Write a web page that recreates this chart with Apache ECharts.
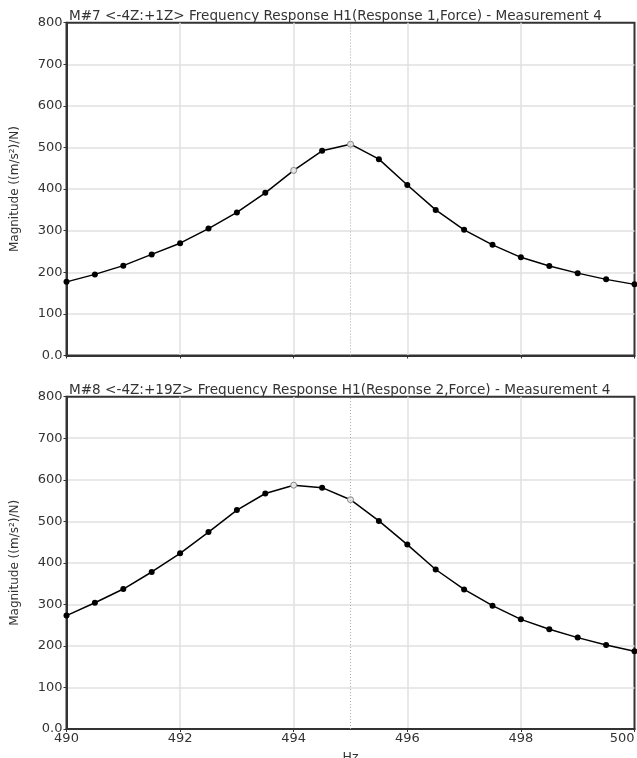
<!DOCTYPE html>
<html>
<head>
<meta charset="utf-8">
<script src="https://cdn.jsdelivr.net/npm/echarts@6/dist/echarts.min.js"></script>
<style>
  html, body { margin: 0; padding: 0; background: #fff; }
  #chart { width: 637px; height: 758px; }
</style>
</head>
<body>
<div id="chart"></div>
<script>
// frequency axis (Hz)
const freqs = [490, 490.5, 491, 491.5, 492, 492.5, 493, 493.5, 494, 494.5, 495,
               495.5, 496, 496.5, 497, 497.5, 498, 498.5, 499, 499.5, 500];
// M#7 magnitudes
const mag7 = [177, 195, 216, 243, 270, 305, 344, 391, 445, 492, 508,
              472, 410, 350, 302, 266, 236, 215, 198, 183, 171];
// M#8 magnitudes
const mag8 = [273, 304, 337, 378, 423, 474, 527, 567, 587, 581, 552,
              501, 444, 384, 336, 297, 264, 240, 220, 202, 187];
const titles = [
  "M#7 <-4Z:+1Z> Frequency Response H1(Response 1,Force) - Measurement 4",
  "M#8 <-4Z:+19Z> Frequency Response H1(Response 2,Force) - Measurement 4"
];
const peakFreq = 495;
const greyPoints = [494, 495]; // highlighted markers

const FONT = "DejaVu Sans";
const chart = echarts.init(document.getElementById("chart"));

function seriesData(vals) {
  return freqs.map((f, i) => {
    const item = { value: [f, vals[i]] };
    if (greyPoints.includes(f)) {
      item.itemStyle = { color: "#e6e6e6", borderColor: "#888", borderWidth: 1 };
    }
    return item;
  });
}

function xAxis(idx, showLabels) {
  return {
    type: "value", gridIndex: idx, min: 490, max: 500, interval: 2,
    name: showLabels ? "Hz" : "", nameLocation: "middle", nameGap: 22,
    nameTextStyle: { fontFamily: FONT, fontSize: 12.5, color: "#333" },
    axisLine: { show: true, onZero: false, lineStyle: { color: "#333", width: 2 } },
    axisTick: { show: true, length: 3, lineStyle: { color: "#333" } },
    axisLabel: { show: showLabels, fontFamily: FONT, fontSize: 13, color: "#333", margin: 3,
                 alignMaxLabel: "right" },
    splitLine: { show: true, showMinLine: false, showMaxLine: false,
                 lineStyle: { color: "#e0e0e0", width: 1.5 } }
  };
}

function yAxis(idx) {
  return {
    type: "value", gridIndex: idx, min: 0, max: 800, interval: 100,
    name: "Magnitude ((m/s²)/N)", nameLocation: "middle", nameGap: 46,
    nameTextStyle: { fontFamily: FONT, fontSize: 12, color: "#333" },
    axisLine: { show: true, lineStyle: { color: "#333", width: 2 } },
    axisTick: { show: true, length: 3, lineStyle: { color: "#333" } },
    axisLabel: {
      fontFamily: FONT, fontSize: 13, color: "#333", margin: 4,
      formatter: v => v === 0 ? "0.0" : String(v)
    },
    splitLine: { show: true, showMinLine: false, showMaxLine: false,
                 lineStyle: { color: "#e0e0e0", width: 1.5 } }
  };
}

function makeSeries(idx, vals) {
  return {
    type: "line", xAxisIndex: idx, yAxisIndex: idx,
    data: seriesData(vals),
    symbol: "circle", symbolSize: 6,
    itemStyle: { color: "#000" },
    lineStyle: { color: "#000", width: 1.5 },
    animation: false,
    markLine: {
      silent: true, symbol: "none", label: { show: false },
      lineStyle: { color: "#aaa", type: [1, 2], width: 1 },
      data: [[{ coord: [peakFreq, 0] }, { coord: [peakFreq, 800] }]]
    }
  };
}

chart.setOption({
  backgroundColor: "#fff",
  animation: false,
  title: [
    { text: titles[0], left: 64, top: 4,
      textStyle: { fontFamily: FONT, fontSize: 13.6, fontWeight: "normal", color: "#333" } },
    { text: titles[1], left: 64, top: 378,
      textStyle: { fontFamily: FONT, fontSize: 13.6, fontWeight: "normal", color: "#333" } }
  ],
  grid: [
    { left: 66.5, right: 2.5, top: 22.7, height: 332.8, outerBoundsMode: "none", containLabel: false,
      show: true, borderColor: "#333", borderWidth: 2 },
    { left: 66.5, right: 2.5, top: 396.7, height: 332.3, outerBoundsMode: "none", containLabel: false,
      show: true, borderColor: "#333", borderWidth: 2 }
  ],
  xAxis: [xAxis(0, false), xAxis(1, true)],
  yAxis: [yAxis(0), yAxis(1)],
  series: [makeSeries(0, mag7), makeSeries(1, mag8)]
});
</script>
</body>
</html>
